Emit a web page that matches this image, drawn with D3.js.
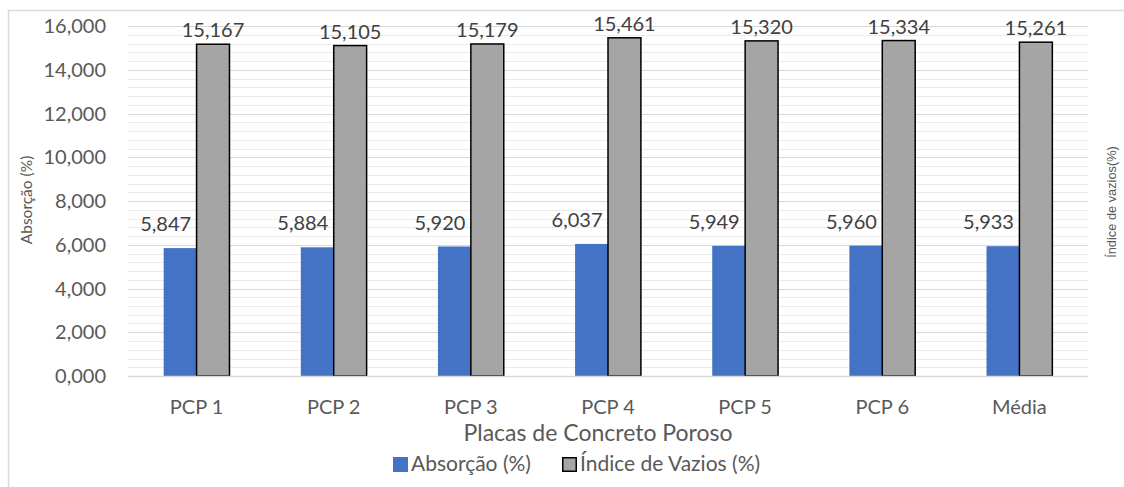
<!DOCTYPE html>
<html><head><meta charset="utf-8">
<script src="https://cdn.jsdelivr.net/npm/d3@7"></script>
<style>body{margin:0;background:#fff}svg{display:block}text{font-family:Lato,"Open Sans",sans-serif}</style>
</head><body><svg id="c" width="1124" height="487"></svg>
<script>
const categories = ["PCP 1","PCP 2","PCP 3","PCP 4","PCP 5","PCP 6","Média"];
const absorcao = [5.847,5.884,5.920,6.037,5.949,5.960,5.933];
const indiceVazios = [15.167,15.105,15.179,15.461,15.320,15.334,15.261];
const yTicks = [0,2000,4000,6000,8000,10000,12000,14000,16000];
const seriesNames = ["Absorção (%)","Índice de Vazios (%)"];
const xTitle = "Placas de Concreto Poroso";
const yTitleLeft = "Absorção (%)";
const yTitleRight = "Índice de vazios(%)";

const svg = d3.select("#c");
const L=128,R=1088,T=26,B=376;
const fmtVal = v => d3.format(".3f")(v).replace(".", ",");
const fmtTick = v => d3.format(",")(v/1000)+","+"000";

// outer border
svg.append("path").attr("d",`M8.5,${490} V10.5 H1130`).attr("fill","none").attr("stroke","#d9d9d9").attr("stroke-width",1.5);

const x = d3.scaleBand().domain(categories).range([L,R]);
const y = d3.scaleLinear().domain([0,16000]).range([B,T]);

// minor gridlines
const minor = d3.range(0,16001,400).filter(v=>v%2000!==0);
svg.append("g").selectAll("line").data(minor).join("line")
  .attr("x1",L).attr("x2",R).attr("y1",d=>Math.round(y(d))+0.5).attr("y2",d=>Math.round(y(d))+0.5)
  .attr("stroke","#ebebeb").attr("stroke-width",1);
// major gridlines
svg.append("g").selectAll("line").data(yTicks).join("line")
  .attr("x1",L).attr("x2",R).attr("y1",d=>Math.round(y(d))+0.5).attr("y2",d=>Math.round(y(d))+0.5)
  .attr("stroke","#d9d9d9").attr("stroke-width",1);

// y tick labels
svg.append("g").selectAll("text").data(yTicks).join("text")
  .attr("x",106).attr("y",d=>y(d)).attr("dy","0.35em").attr("text-anchor","end")
  .attr("fill","#595959").style("font-size","20px")
  .text(d=>fmtTick(d));

const bw = x.bandwidth()*0.24;
const cx = c => x(c)+x.bandwidth()/2;

// blue bars
svg.append("g").selectAll("rect").data(categories).join("rect")
  .attr("x",c=>cx(c)-bw).attr("width",bw)
  .attr("y",(c,i)=>y(absorcao[i]*1000)).attr("height",(c,i)=>B-y(absorcao[i]*1000))
  .attr("fill","#4472c4");
// gray bars
svg.append("g").selectAll("rect").data(categories).join("rect")
  .attr("x",c=>cx(c)).attr("width",bw)
  .attr("y",(c,i)=>y(indiceVazios[i]*1000)).attr("height",(c,i)=>B-y(indiceVazios[i]*1000))
  .attr("fill","#a5a5a5").attr("stroke","#000").attr("stroke-width",1.5);

// x axis line
svg.append("line").attr("x1",L).attr("x2",R).attr("y1",B+0.5).attr("y2",B+0.5).attr("stroke","#d9d9d9").attr("stroke-width",1.5);

// data labels
svg.append("g").selectAll("text").data(categories).join("text")
  .attr("x",c=>cx(c)-bw+2).attr("y",(c,i)=>y(absorcao[i]*1000)-17)
  .attr("text-anchor","middle").attr("fill","#404040").style("font-size","20px")
  .text((c,i)=>fmtVal(absorcao[i]));
svg.append("g").selectAll("text").data(categories).join("text")
  .attr("x",c=>cx(c)+bw/2).attr("y",(c,i)=>y(indiceVazios[i]*1000)-7)
  .attr("text-anchor","middle").attr("fill","#404040").style("font-size","20px")
  .text((c,i)=>fmtVal(indiceVazios[i]));

// x category labels
svg.append("g").selectAll("text").data(categories).join("text")
  .attr("x",c=>cx(c)).attr("y",407).attr("dy","0.35em").attr("text-anchor","middle")
  .attr("fill","#595959").style("font-size","20px").text(c=>c);

// x title
svg.append("text").attr("x",(L+R)/2-10).attr("y",433).attr("dy","0.35em").attr("text-anchor","middle")
  .attr("fill","#595959").style("font-size","23px").text(xTitle);

// y titles
svg.append("text").attr("transform","translate(27,200) rotate(-90)").attr("dy","0.35em").attr("text-anchor","middle")
  .attr("fill","#595959").style("font-size","15.5px").text(yTitleLeft);
svg.append("text").attr("transform","translate(1112,202) rotate(-90)").attr("dy","0.35em").attr("text-anchor","middle")
  .attr("fill","#595959").style("font-family","'Liberation Sans',Arial,sans-serif").style("font-size","12.8px").text(yTitleRight);

// legend
const lg = svg.append("g");
const legendItems = [{name:seriesNames[0],fill:"#4472c4",stroke:"none",x:393},{name:seriesNames[1],fill:"#a5a5a5",stroke:"#000",x:562}];
legendItems.forEach(d=>{
  lg.append("rect").attr("x",d.x+ (d.stroke==="none"?0:0.75)).attr("y",457+(d.stroke==="none"?0:0.75))
    .attr("width",d.stroke==="none"?15:13.5).attr("height",d.stroke==="none"?15:13.5)
    .attr("fill",d.fill).attr("stroke",d.stroke).attr("stroke-width",1.5);
  lg.append("text").attr("x",d.x+18).attr("y",464).attr("dy","0.35em")
    .attr("fill","#595959").style("font-size","21px").text(d.name);
});
</script></body></html>
